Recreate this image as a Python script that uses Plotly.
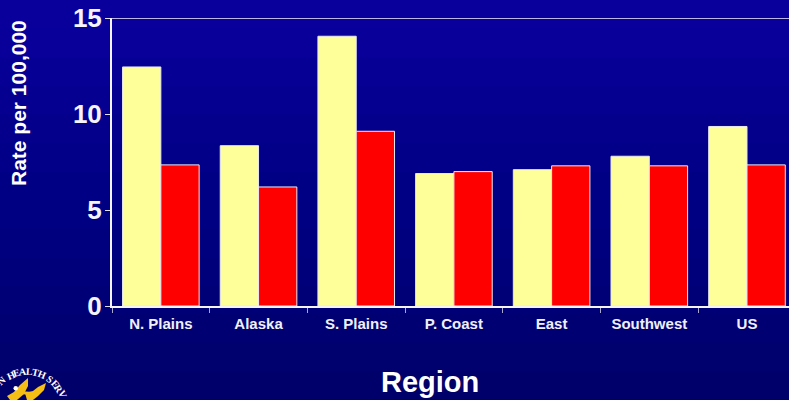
import math
import plotly.graph_objects as go

W, H = 789, 400

regions = ["N. Plains", "Alaska", "S. Plains", "P. Coast", "East", "Southwest", "US"]
first_series = [12.45, 8.35, 14.05, 6.9, 7.1, 7.8, 9.35]
second_series = [7.35, 6.2, 9.1, 7.0, 7.3, 7.3, 7.35]
y_ticks = [0, 5, 10, 15]

# Slide background: stepped vertical gradient from blue to navy
band_colors = ["#09009c", "#080098", "#070094", "#060090", "#04008c", "#020088",
               "#000085", "#000082", "#00007e", "#00007a", "#000076", "#000072", "#00006e", "#00006a"]

# Letters around the rim of the agency seal, with their angle from the top of the circle
seal_letters = ["N", "H", "E", "A", "L", "T", "H", "S", "E", "R", "V"]
seal_angles = [-41, -25, -15.5, -6, 3.5, 13, 22.5, 37, 47, 57, 67]

FONT = "Liberation Sans, Arial, sans-serif"
SERIF = "Liberation Serif, Times New Roman, serif"
LINE = "#f4f4fa"


def px(x):
    return x / W


def py(y):
    return 1 - y / H


shapes = []
band_h = H / len(band_colors)
for i, color in enumerate(band_colors):
    shapes.append(dict(type="rect", xref="paper", yref="paper", layer="below",
                       x0=0, x1=1, y0=py(i * band_h), y1=py((i + 1) * band_h + 1),
                       fillcolor=color, line_width=0))

# Line closing the top of the plot at the axis maximum
shapes.append(dict(type="line", xref="paper", yref="y", x0=px(112), x1=1, y0=15, y1=15,
                   line=dict(color=LINE, width=1.5)))


def polygon(points, color):
    path = "M " + " L ".join(f"{px(a):.4f},{py(b):.4f}" for a, b in points) + " Z"
    return dict(type="path", xref="paper", yref="paper", path=path, fillcolor=color, line_width=0)


# Seal emblem in the lower left corner: eagle wings, body and dot
shapes.append(polygon([(7, 396), (14, 392), (20, 385), (28, 378), (28, 386), (24, 394), (17, 400), (10, 400)], "#f5bf16"))
shapes.append(polygon([(25, 393), (33, 391), (38, 387), (46, 383), (44, 390), (38, 396), (33, 400), (27, 400)], "#f5bf16"))
shapes.append(polygon([(19, 391), (33, 392), (33, 395), (19, 394)], "#f5bf16"))
shapes.append(dict(type="circle", xref="paper", yref="paper", x0=px(13.5), x1=px(18), y0=py(390.5), y1=py(386),
                   fillcolor="white", line_width=0))

annotations = [
    dict(text="<b>Region</b>", x=px(430), y=py(382), xref="x2 domain", yref="y2 domain", showarrow=False,
         xanchor="center", yanchor="middle", font=dict(size=29, family=FONT, color="white")),
    dict(text="<b>Rate per 100,000</b>", x=px(18), y=py(103), xref="paper", yref="paper", showarrow=False,
         textangle=-90, xanchor="center", yanchor="middle", font=dict(size=21, family=FONT, color="white")),
]

# Rim letters use a hidden full-page axis pair so they can sit close to the page edge
seal_cx, seal_cy, seal_r = 27, 410, 38.5
for ch, deg in zip(seal_letters, seal_angles):
    a = math.radians(deg)
    annotations.append(dict(text=f"<b>{ch}</b>", x=seal_cx + seal_r * math.sin(a), y=seal_cy - seal_r * math.cos(a),
                            xref="x2", yref="y2", showarrow=False, textangle=deg,
                            xanchor="center", yanchor="middle",
                            font=dict(family=SERIF, size=10, color="white")))

fig = go.Figure()
fig.add_bar(x=regions, y=first_series, marker=dict(color="#ffff99", line=dict(color="#e8e8f0", width=1)))
fig.add_bar(x=regions, y=second_series, marker=dict(color="#ff0000", line=dict(color="#f0e8f0", width=1)))
fig.add_scatter(x=[], y=[], xaxis="x2", yaxis="y2", showlegend=False)

fig.update_layout(
    width=W, height=H, autosize=False,
    margin=dict(l=0, r=0, t=0, b=0),
    barmode="group", bargap=0.216, bargroupgap=0,
    showlegend=False,
    paper_bgcolor="#000080", plot_bgcolor="rgba(0,0,0,0)",
    shapes=shapes, annotations=annotations,
    font=dict(family=FONT, color="white"),
    xaxis=dict(domain=[px(112), 1], range=[-0.5, 6.43], type="category", tickson="boundaries", automargin=False,
               ticks="outside", ticklen=5, tickcolor="#a8a8d0", tickwidth=1, ticklabelstandoff=3,
               showline=True, linecolor=LINE, linewidth=2, showgrid=False,
               tickfont=dict(size=15, family=FONT, color="#f0f0f8", weight="bold")),
    yaxis=dict(domain=[py(306), py(18)], range=[0, 15], tickvals=y_ticks, automargin=False,
               ticks="outside", ticklen=5, tickcolor="#e0e0f0", tickwidth=1, ticklabelstandoff=-2,
               showline=True, linecolor=LINE, linewidth=2, showgrid=False, zeroline=False,
               tickfont=dict(size=26, family=FONT, color="#f4f4fa", weight="bold")),
    xaxis2=dict(domain=[0, 1], range=[0, W], visible=False, anchor="y2", fixedrange=True, automargin=False),
    yaxis2=dict(domain=[0, 1], range=[H, 0], visible=False, anchor="x2", fixedrange=True, automargin=False),
)

fig.write_html("out.html", config=dict(displayModeBar=False))
